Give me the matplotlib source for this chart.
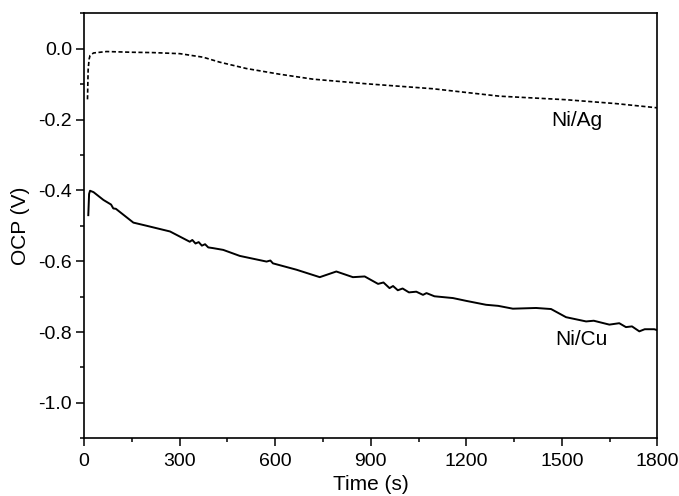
import matplotlib
matplotlib.use("Agg")
import matplotlib.pyplot as plt
from matplotlib.ticker import MultipleLocator

plt.rcParams['font.family'] = ['Liberation Sans', 'DejaVu Sans']

# Ni/Ag (dashed)
t_ag = [11, 13, 16, 19, 30, 71, 150, 217, 301, 374, 426, 510, 614, 719, 886,
        1095, 1304, 1429, 1513, 1670, 1790, 1800]
v_ag = [-0.143, -0.06, -0.03, -0.019, -0.012, -0.008, -0.010, -0.011, -0.014,
        -0.024, -0.038, -0.056, -0.072, -0.086, -0.099, -0.113, -0.134, -0.140,
        -0.144, -0.155, -0.166, -0.167]

# Ni/Cu (solid)
t_cu = [13.5, 16, 19, 30, 61, 85, 92, 100, 155, 197, 270, 332, 340, 350, 360,
        370, 380, 390, 405, 437, 489, 573, 585, 593, 667, 740, 792, 844, 881,
        923, 940, 959, 970, 985, 1000, 1020, 1043, 1064, 1075, 1100, 1158,
        1200, 1262, 1300, 1346, 1419, 1466, 1513, 1576, 1600, 1649, 1680, 1701,
        1720, 1743, 1760, 1790, 1800]
v_cu = [-0.470, -0.41, -0.401, -0.405, -0.427, -0.440, -0.451, -0.452, -0.491,
        -0.500, -0.516, -0.545, -0.540, -0.550, -0.546, -0.556, -0.552, -0.561,
        -0.563, -0.568, -0.585, -0.601, -0.598, -0.606, -0.624, -0.645, -0.629,
        -0.645, -0.643, -0.664, -0.660, -0.676, -0.670, -0.682, -0.677, -0.688,
        -0.686, -0.695, -0.690, -0.699, -0.704, -0.712, -0.723, -0.726, -0.734,
        -0.732, -0.735, -0.758, -0.770, -0.768, -0.779, -0.775, -0.786, -0.784,
        -0.798, -0.792, -0.792, -0.795]

x_ticks = [0, 300, 600, 900, 1200, 1500, 1800]
y_ticks = [0.0, -0.2, -0.4, -0.6, -0.8, -1.0]

fig = plt.figure(figsize=(6.79, 4.96), dpi=100)
ax = fig.add_axes([0.1237, 0.1163, 0.8446, 0.8569])

ax.plot(t_ag, v_ag, color='black', lw=1.2, linestyle=(0, (2.5, 1.5)))
ax.plot(t_cu, v_cu, color='black', lw=1.4)

ax.set_xlim(0, 1800)
ax.set_ylim(-1.1, 0.1)
ax.set_xticks(x_ticks)
ax.set_yticks(y_ticks)
ax.set_yticklabels([f"{v:.1f}" for v in y_ticks])
ax.xaxis.set_minor_locator(MultipleLocator(150))
ax.yaxis.set_minor_locator(MultipleLocator(0.1))
ax.tick_params(which='major', direction='out', length=5.5, width=1.1, labelsize=14, pad=3)
ax.tick_params(axis='x', which='major', pad=5)
ax.tick_params(which='minor', direction='out', length=3, width=1.1)
ax.tick_params(top=False, right=False, which='both')
for s in ax.spines.values():
    s.set_linewidth(1.2)

ax.set_xlabel('Time (s)', fontsize=15, labelpad=4)
ax.set_ylabel('OCP (V)', fontsize=15, labelpad=6)

ax.text(1548, -0.202, 'Ni/Ag', fontsize=15, ha='center', va='center')
ax.text(1560, -0.822, 'Ni/Cu', fontsize=15, ha='center', va='center')

fig.savefig('out.png', dpi=100)
